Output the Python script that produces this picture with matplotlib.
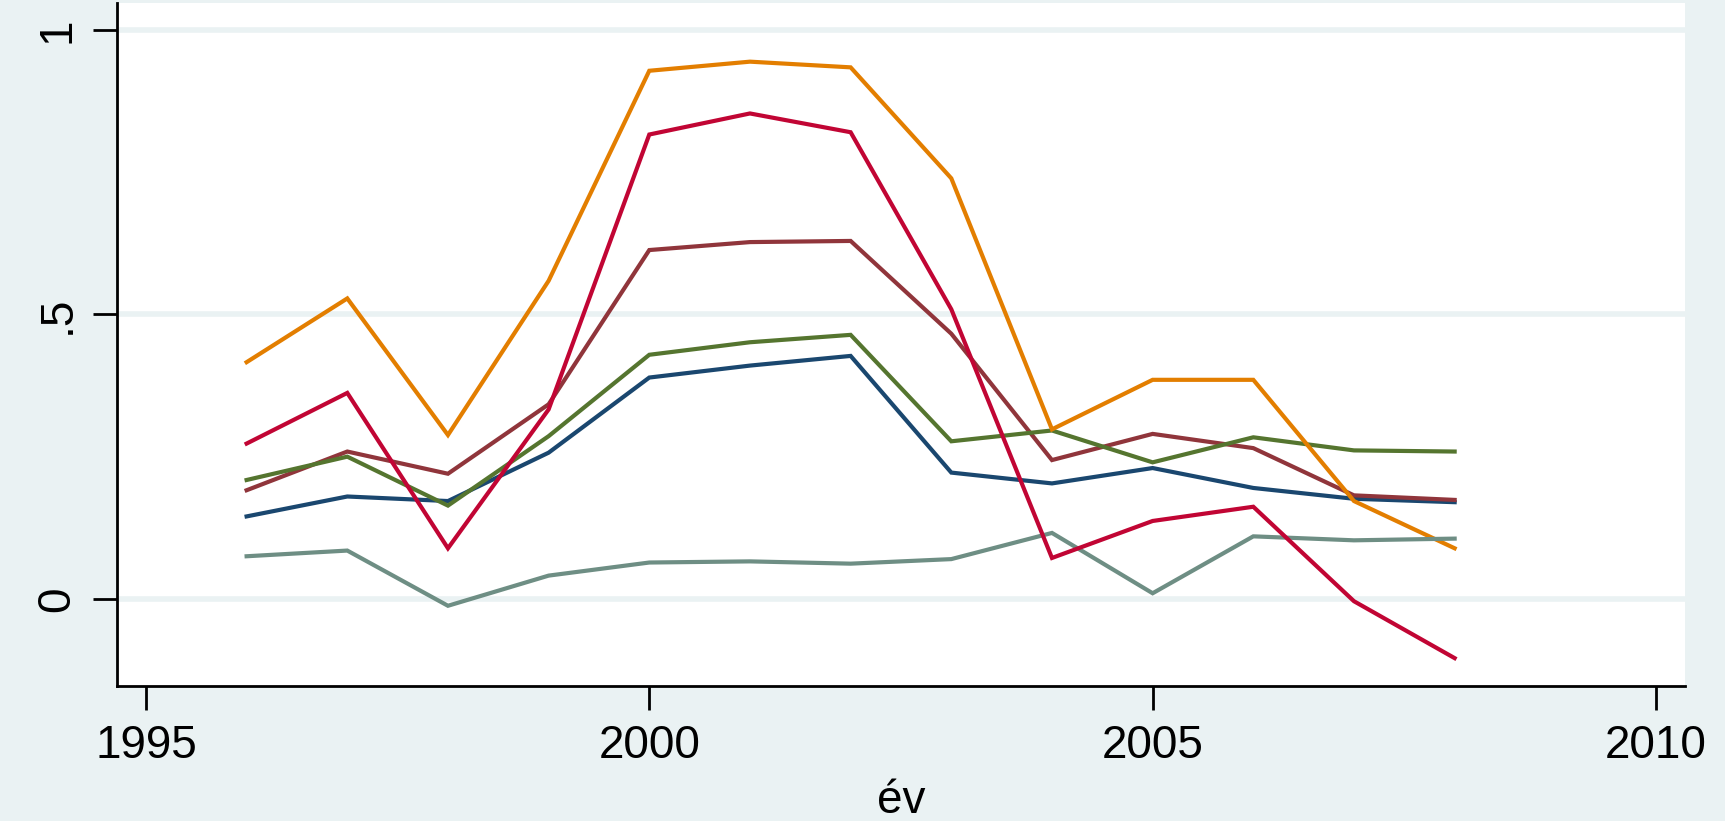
import matplotlib
matplotlib.use("Agg")
import matplotlib.pyplot as plt

plt.rcParams['font.family'] = ['Liberation Sans', 'DejaVu Sans']

years = [1996, 1997, 1998, 1999, 2000, 2001, 2002, 2003, 2004, 2005, 2006, 2007, 2008]

navy = [0.145, 0.180, 0.172, 0.257, 0.389, 0.410, 0.427, 0.222, 0.203, 0.230, 0.195, 0.176, 0.170]
maroon = [0.191, 0.259, 0.220, 0.342, 0.613, 0.627, 0.629, 0.466, 0.244, 0.290, 0.265, 0.182, 0.174]
green = [0.209, 0.250, 0.164, 0.286, 0.429, 0.451, 0.464, 0.277, 0.296, 0.240, 0.284, 0.261, 0.259]
orange = [0.416, 0.528, 0.288, 0.559, 0.928, 0.944, 0.934, 0.739, 0.298, 0.385, 0.385, 0.172, 0.089]
teal = [0.075, 0.085, -0.012, 0.041, 0.064, 0.066, 0.062, 0.070, 0.116, 0.010, 0.110, 0.103, 0.106]
cranberry = [0.273, 0.362, 0.089, 0.333, 0.816, 0.853, 0.820, 0.509, 0.072, 0.137, 0.162, -0.004, -0.104]

x_ticks = [1995, 2000, 2005, 2010]
y_ticks = [0, 0.5, 1]
y_ticklabels = ['0', '.5', '1']

series = [
    (navy, '#1a476f'),
    (maroon, '#90353b'),
    (green, '#55752f'),
    (orange, '#e37e00'),
    (teal, '#6e8e84'),
    (cranberry, '#c10534'),
]

bg = '#eaf2f3'
fig = plt.figure(figsize=(17.25, 8.21), dpi=100, facecolor=bg)
ax = fig.add_axes([0.0678, 0.1644, 0.9768 - 0.0678, 0.9963 - 0.1644])
ax.set_facecolor('white')

for vals, col in series:
    ax.plot(years, vals, color=col, lw=3, solid_joinstyle='miter')

ax.set_xlim(1994.712, 2010.288)
ax.set_ylim(-0.153, 1.047)
ax.set_xticks(x_ticks)
ax.set_yticks(y_ticks)
ax.set_yticklabels(y_ticklabels)
ax.yaxis.grid(True, color=bg, lw=4)
ax.set_axisbelow(True)

for s in ['top', 'right']:
    ax.spines[s].set_visible(False)
for s in ['left', 'bottom']:
    ax.spines[s].set_linewidth(2)
    ax.spines[s].set_color('black')

ax.tick_params(axis='both', length=17, width=2, labelsize=33, pad=10)
for lbl in ax.get_yticklabels():
    lbl.set_rotation(90)
    lbl.set_va('center')
ax.set_xlabel('év', fontsize=33, labelpad=8)

fig.savefig('out.png', dpi=100, facecolor=bg)
